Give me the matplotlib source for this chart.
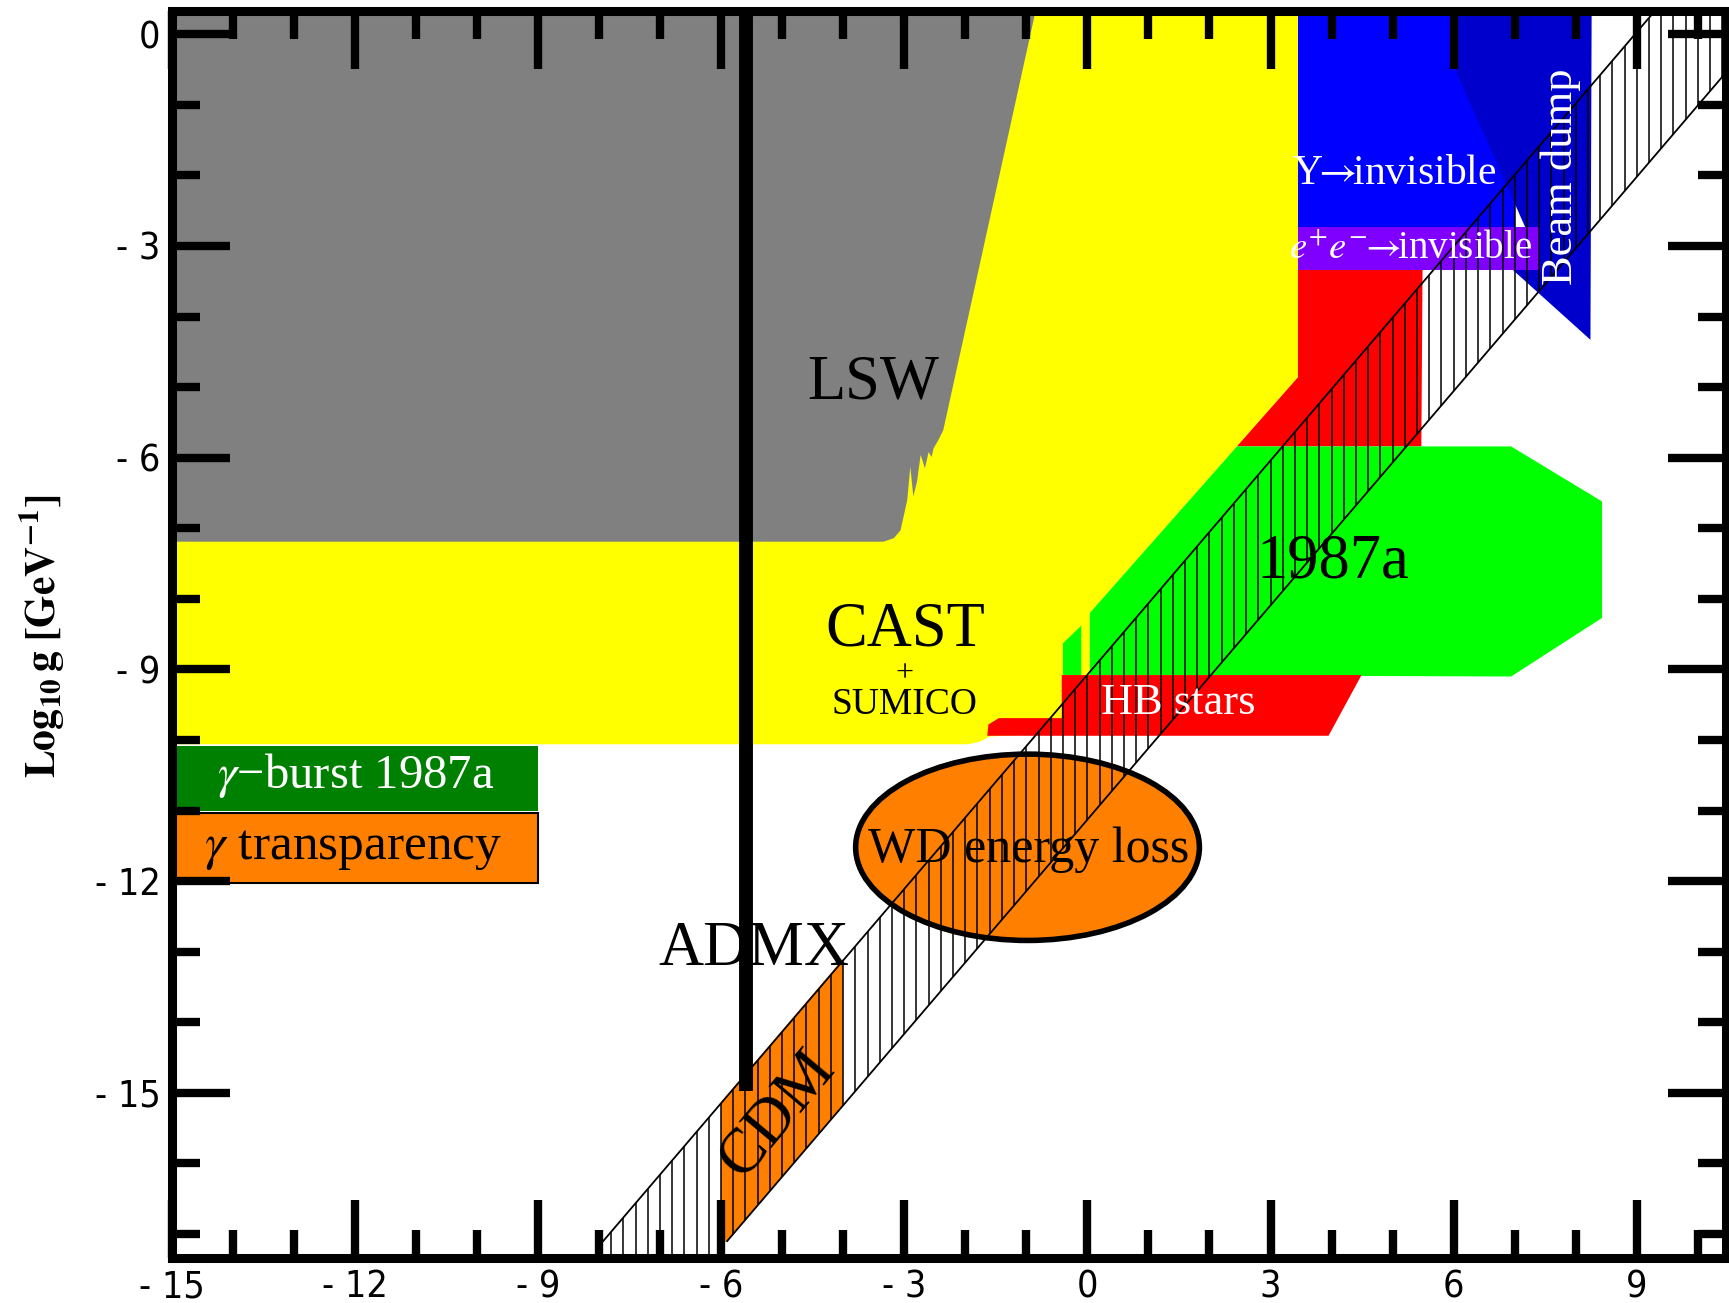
"""
Axion-like particle exclusion plot: log10 g vs log10 m
"""

import numpy as np
import matplotlib
matplotlib.use('Agg')
import matplotlib.pyplot as plt
from matplotlib.patches import Polygon, Ellipse, Rectangle

plt.rcParams['mathtext.fontset'] = 'stix'
SERIF = ['Liberation Serif', 'DejaVu Serif']

# axis ranges / ticks
X_RANGE = (-15, 10.46)
Y_RANGE = (-17.34, 0.33)
X_MAJOR = [-15, -12, -9, -6, -3, 0, 3, 6, 9]
Y_MAJOR = [0, -3, -6, -9, -12, -15]
X_MINOR = list(range(-14, 11))
Y_MINOR = list(range(-17, 1))

# excluded regions (outline vertices)
lsw_x = [-15, -0.83, -2.36, -2.44, -2.52, -2.55, -2.60, -2.66, -2.73, -2.79,
         -2.85, -2.90, -2.95, -3.06, -3.17, -3.34, -15]
lsw_y = [0.4, 0.4, -5.61, -5.75, -5.87, -5.99, -5.92, -6.15, -5.96, -6.34,
         -6.55, -6.13, -6.60, -7.03, -7.14, -7.19, -7.19]

cast_x = [-15, 3.45, 3.45, 0.04, 0.04, -0.42, -0.42, -1.60, -1.75, -1.95, -15]
cast_y = [0.4, 0.4, -4.86, -8.20, -9.10, -9.10, -9.90, -9.95, -10.02, -10.06, -10.06]

ups_x = [3.45, 7.0, 7.0, 3.45]
ups_y = [0.4, 0.4, -2.73, -2.73]

beam_x = [5.93, 6.05, 7.36, 6.97, 8.24, 8.26]
beam_y = [0.4, -0.55, -3.10, -3.34, -4.33, 0.4]

ee_x = [3.45, 7.42, 7.42, 3.45]
ee_y = [-2.73, -2.73, -3.34, -3.34]

hb_up_x = [3.45, 5.49, 5.47, 2.45, 3.45]
hb_up_y = [-3.34, -3.34, -5.84, -5.84, -4.86]

sn_x = [0.04, 2.45, 6.94, 8.43, 8.43, 6.94, 0.04]
sn_y = [-8.20, -5.84, -5.84, -6.62, -8.27, -9.10, -9.08]

sn_small_x = [-0.40, -0.40, -0.10, -0.10]
sn_small_y = [-9.08, -8.63, -8.38, -9.08]

hb_x = [-0.42, 4.49, 3.95, -1.64, -1.62, -1.45, -0.42]
hb_y = [-9.08, -9.08, -9.94, -9.94, -9.78, -9.69, -9.69]

# legend-like boxes on the left
burst_box = (-15, -11.0, 6.0, 0.92)      # x0, y0, w, h
transp_box = (-15, -12.02, 6.0, 0.99)

# WD energy loss ellipse: centre, width, height
wd_center = (-0.98, -11.52)
wd_size = (5.63, 2.64)

# axion model band (QCD axion line): upper and lower edges
band_up_x = [-7.93, 10.6]
band_up_y = [-17.10, 1.65]
band_lo_x = [-5.90, 10.6]
band_lo_y = [-17.10, -0.40]
cdm_x = [-6.0, -5.9, -4.0, -4.0, -6.0]
cdm_y = [-17.12, -17.10, -15.18, -13.10, -15.13]

# ADMX vertical exclusion
admx_x = -5.59
admx_y = (0.5, -14.98)


def poly(ax, xs, ys, color, z, **kw):
    p = Polygon(np.column_stack([xs, ys]), closed=True, facecolor=color,
                edgecolor='none', zorder=z, **kw)
    ax.add_patch(p)
    return p


fig = plt.figure(figsize=(17.29, 13.03), dpi=100)
ax = fig.add_axes([0.0992, 0.0345, 0.99826 - 0.0992, 0.9916 - 0.0345])

poly(ax, cast_x, cast_y, '#FFFF00', 1)
poly(ax, lsw_x, lsw_y, '#808080', 1.1)
poly(ax, ups_x, ups_y, '#0000FF', 1.2)
poly(ax, beam_x, beam_y, '#0000CC', 1.3)
poly(ax, ee_x, ee_y, '#8000FF', 1.4)
poly(ax, hb_up_x, hb_up_y, '#FF0000', 1.2)
poly(ax, sn_x, sn_y, '#00FF00', 1.5)
poly(ax, sn_small_x, sn_small_y, '#00FF00', 1.5)
poly(ax, hb_x, hb_y, '#FF0000', 1.6)

ax.add_patch(Rectangle(burst_box[:2], burst_box[2], burst_box[3],
                       facecolor='#008000', edgecolor='none', zorder=2))
ax.add_patch(Rectangle(transp_box[:2], transp_box[2], transp_box[3],
                       facecolor='#FF8000', edgecolor='k', lw=1.5, zorder=2))

ax.add_patch(Ellipse(wd_center, *wd_size, facecolor='#FF8000',
                     edgecolor='none', zorder=3))

poly(ax, cdm_x, cdm_y, '#FF8000', 3.2)

# hatched band: vertical lines clipped to the band, open at the bottom
band_xs = band_up_x + band_lo_x[::-1] + [band_lo_x[0], band_up_x[0]]
band_ys = band_up_y + band_lo_y[::-1] + [-18, -18]
band = poly(ax, band_xs, band_ys, 'none', 3.8)
hx = np.arange(-7.8, 10.6, 0.2)
vl = ax.vlines(hx, -18, 2, colors='k', lw=1.1, zorder=3.9)
vl.set_clip_path(band)
ax.plot(band_up_x, band_up_y, color='k', lw=1.3, zorder=4)
ax.plot(band_lo_x, band_lo_y, color='k', lw=1.3, zorder=4)

ax.add_patch(Ellipse(wd_center, *wd_size, facecolor='none',
                     edgecolor='k', lw=4, zorder=4.5))

ax.plot([admx_x, admx_x], admx_y, color='k', lw=10,
        solid_capstyle='butt', zorder=5)

# labels inside the plot
txt = dict(family=SERIF, ha='center', va='center', zorder=6)
ax.text(-3.50, -4.95, 'LSW', fontsize=45, **txt)
ax.text(-2.99, -8.45, 'CAST', fontsize=45, **txt)
ax.text(-2.99, -9.06, '+', fontsize=23, **txt)
ax.text(-2.99, -9.50, 'SUMICO', fontsize=27, **txt)
ax.text(-5.46, -12.98, 'ADMX', fontsize=45, **txt)
ax.text(-5.07, -15.30, 'CDM', fontsize=46, rotation=50, **txt)
ax.text(-0.97, -11.55, 'WD energy loss', fontsize=36, **txt)
ax.text(1.49, -9.48, 'HB stars', fontsize=32, color='white', **txt)
ax.text(4.02, -7.48, '1987a', fontsize=45, **txt)
ax.text(5.03, -1.98, r'Υ$\!\!\rightarrow\!\!$invisible', fontsize=30,
        color='white', **txt)
ax.text(5.30, -3.03, r'$e^{+}e^{-}\!\!\rightarrow\!\!$invisible', fontsize=28,
        color='white', **txt)
ax.text(7.75, -2.02, 'Beam dump', fontsize=32, color='white',
        rotation=90, **txt)
ax.text(-11.98, -10.50, r'$\gamma$−burst 1987a', fontsize=35,
        color='white', **txt)
ax.text(-12.02, -11.54, r'$\gamma$ transparency', fontsize=37, **txt)

ax.set_xlim(*X_RANGE)
ax.set_ylim(*Y_RANGE)

ax.set_xticks(X_MAJOR)
ax.set_xticks(X_MINOR, minor=True)
ax.set_yticks(Y_MAJOR)
ax.set_yticks(Y_MINOR, minor=True)
fmt = lambda v: str(v) if v >= 0 else '- ' + str(-v)
ax.set_xticklabels([fmt(v) for v in X_MAJOR])
ax.set_yticklabels([fmt(v) for v in Y_MAJOR])

ax.tick_params(which='both', direction='in', top=True, right=True,
               width=6, labelsize=27, colors='k')
ax.tick_params(which='major', length=42)
ax.tick_params(which='minor', length=20)
ax.tick_params(axis='x', pad=8)
ax.tick_params(axis='y', pad=8)
for lab in ax.get_xticklabels() + ax.get_yticklabels():
    lab.set_family('DejaVu Sans')
    lab.set_stretch('condensed')

for s in ax.spines.values():
    s.set_linewidth(6.5)
    s.set_zorder(10)
ax.xaxis.set_zorder(10)
ax.yaxis.set_zorder(10)

fig.text(42 / 1729, 0.512, r'$\mathbf{Log_{10}\,g\ [GeV^{-1}]}$', fontsize=30,
         rotation=90, ha='center', va='center')

fig.savefig('out.png', dpi=100)
